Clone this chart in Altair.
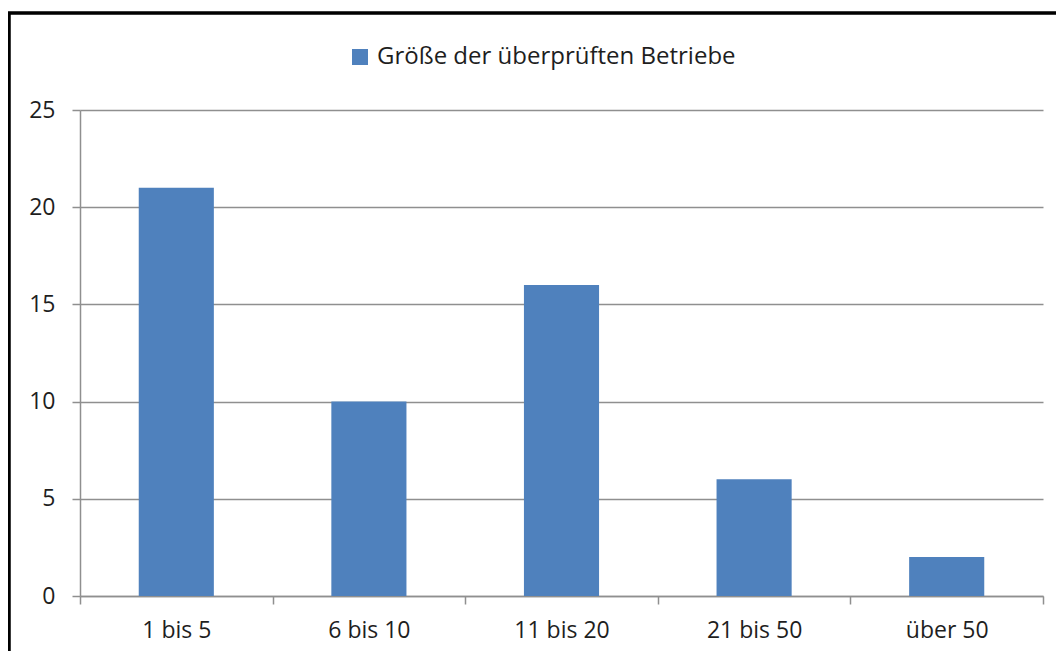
import altair as alt
import pandas as pd

categories = ["1 bis 5", "6 bis 10", "11 bis 20", "21 bis 50", "über 50"]
values = [21, 10, 16, 6, 2]
series_name = "Größe der überprüften Betriebe"
y_ticks = [0, 5, 10, 15, 20, 25]

df = pd.DataFrame({"Kategorie": categories, "Wert": values, "Serie": [series_name] * len(categories)})

FONT = "Open Sans"
TEXT = "#1e1e1e"
GRID = "#8f8f8f"
FS = 23

bars = alt.Chart(df).mark_bar(color="#4F81BD", width=alt.RelativeBandSize(0.39)).encode(
    x=alt.X(
        "Kategorie:N",
        sort=categories,
        scale=alt.Scale(paddingInner=0, paddingOuter=0),
        axis=alt.Axis(
            title=None, labelAngle=0, tickBand="extent", tickSize=8,
            labelPadding=15, labelFont=FONT, labelFontSize=FS, labelColor=TEXT,
            domainColor=GRID, tickColor=GRID, domainWidth=1.5, tickWidth=1.5,
            grid=False,
        ),
    ),
    y=alt.Y(
        "Wert:Q",
        scale=alt.Scale(domain=[0, 25], nice=False),
        axis=alt.Axis(
            title=None, values=y_ticks, tickSize=8, labelPadding=17,
            labelFont=FONT, labelFontSize=FS, labelColor=TEXT,
            domainColor=GRID, tickColor=GRID, gridColor=GRID,
            domainWidth=1.5, tickWidth=1.5, gridWidth=1.5,
        ),
    ),
    color=alt.Color(
        "Serie:N",
        scale=alt.Scale(domain=[series_name], range=["#4F81BD"]),
        legend=alt.Legend(
            title=None, orient="none", legendX=268, legendY=-65,
            symbolType="square", symbolSize=256, symbolStrokeWidth=0,
            labelFont=FONT, labelFontSize=24, labelColor=TEXT, labelOffset=5,
            labelLimit=0, padding=0, symbolOffset=0,
        ),
    ),
)

frame_top = alt.Chart(df).mark_rule(color="#000000", strokeWidth=2.5).encode(
    x=alt.value(-72), x2=alt.value(1100), y=alt.value(-97)
)
frame_left = alt.Chart(df).mark_rule(color="#000000", strokeWidth=2.5).encode(
    x=alt.value(-71), y=alt.value(-98), y2=alt.value(700)
)

chart = alt.layer(bars, frame_top, frame_left).properties(
    width=963, height=486,
    padding={"left": 72, "top": 102, "right": 13, "bottom": 55},
    autosize=alt.AutoSizeParams(type="none"),
    background="white",
).configure_view(stroke=None)

chart.save("out.html", embed_options={"renderer": "svg", "actions": False})
